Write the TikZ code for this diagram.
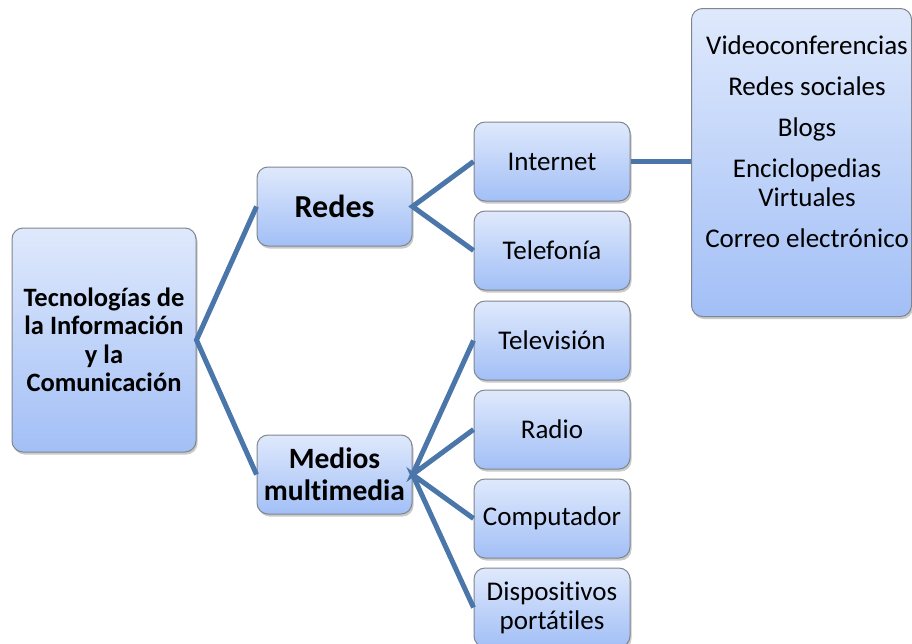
\documentclass[tikz,border=0pt]{standalone}
\usepackage{fontspec}
\setmainfont{Carlito}[Ligatures={NoCommon}]
\usetikzlibrary{shadows}
\definecolor{boxtop}{HTML}{DFE9FC}
\definecolor{boxbot}{HTML}{A2BFF6}
\definecolor{boxline}{HTML}{80858E}
\definecolor{link}{HTML}{4A76A9}
\tikzset{
  card/.style={draw=boxline, line width=1pt, rounded corners=11pt,
    top color=boxtop, bottom color=boxbot, align=center, inner sep=0pt,
    drop shadow={shadow xshift=1.5pt, shadow yshift=-2.5pt, opacity=0.35, fill=black!60}},
  link/.style={draw=link, line width=5pt},
  leaf/.style={card, minimum width=156pt, minimum height=79pt, font=\fontsize{27}{29}\selectfont},
  mid/.style={card, minimum width=155pt, minimum height=79pt, font=\bfseries\fontsize{29.5}{32}\selectfont},
}
\begin{document}
\begin{tikzpicture}[x=1pt,y=-1pt]
\useasboundingbox (0,0) rectangle (912,643);
\begin{scope}
\clip (0,0) rectangle (912,643);
\node[card, minimum width=184pt, minimum height=224pt, font=\bfseries\fontsize{26.5}{28.5}\selectfont] (tic) at (104,340) {Tecnologías de\\la Información\\y la\\Comunicación};
\node[mid, font=\bfseries\fontsize{32}{31}\selectfont] (redes) at (334.5,206.5) {Redes};
\node[mid] (medios) at (334.5,474.5) {Medios\\multimedia};
\node[leaf] (internet) at (552,161.5) {Internet};
\node[leaf] (telef) at (552,250.5) {Telefonía};
\node[leaf] (tele) at (552,340.5) {Televisión};
\node[leaf] (radio) at (552,429.5) {Radio};
\node[leaf] (comp) at (552,518.5) {Computador};
\node[leaf] (disp) at (552,607.5) {Dispositivos\\portátiles};
\node[card, minimum width=220pt, minimum height=308pt, anchor=north west] (usos) at (691,8) {};
\node[anchor=north, align=center, inner sep=0pt, font=\fontsize{27}{29}\selectfont] (usostxt) at ([xshift=5.5pt,yshift=-27.5pt]usos.north)
  {Videoconferencias\\[12pt]Redes sociales\\[12pt]Blogs\\[12pt]Enciclopedias\\Virtuales\\[12pt]Correo electrónico};
\end{scope}
\draw[link] (redes.west) -- (tic.east) -- (medios.west);
\draw[link] (internet.west) -- (redes.east) -- (telef.west);
\draw[link] (tele.west) -- (medios.east) -- (radio.west);
\draw[link] (comp.west) -- (medios.east) -- (disp.west);
\draw[link] (internet.east) -- (usos.west |- internet.east);
\end{tikzpicture}
\end{document}
